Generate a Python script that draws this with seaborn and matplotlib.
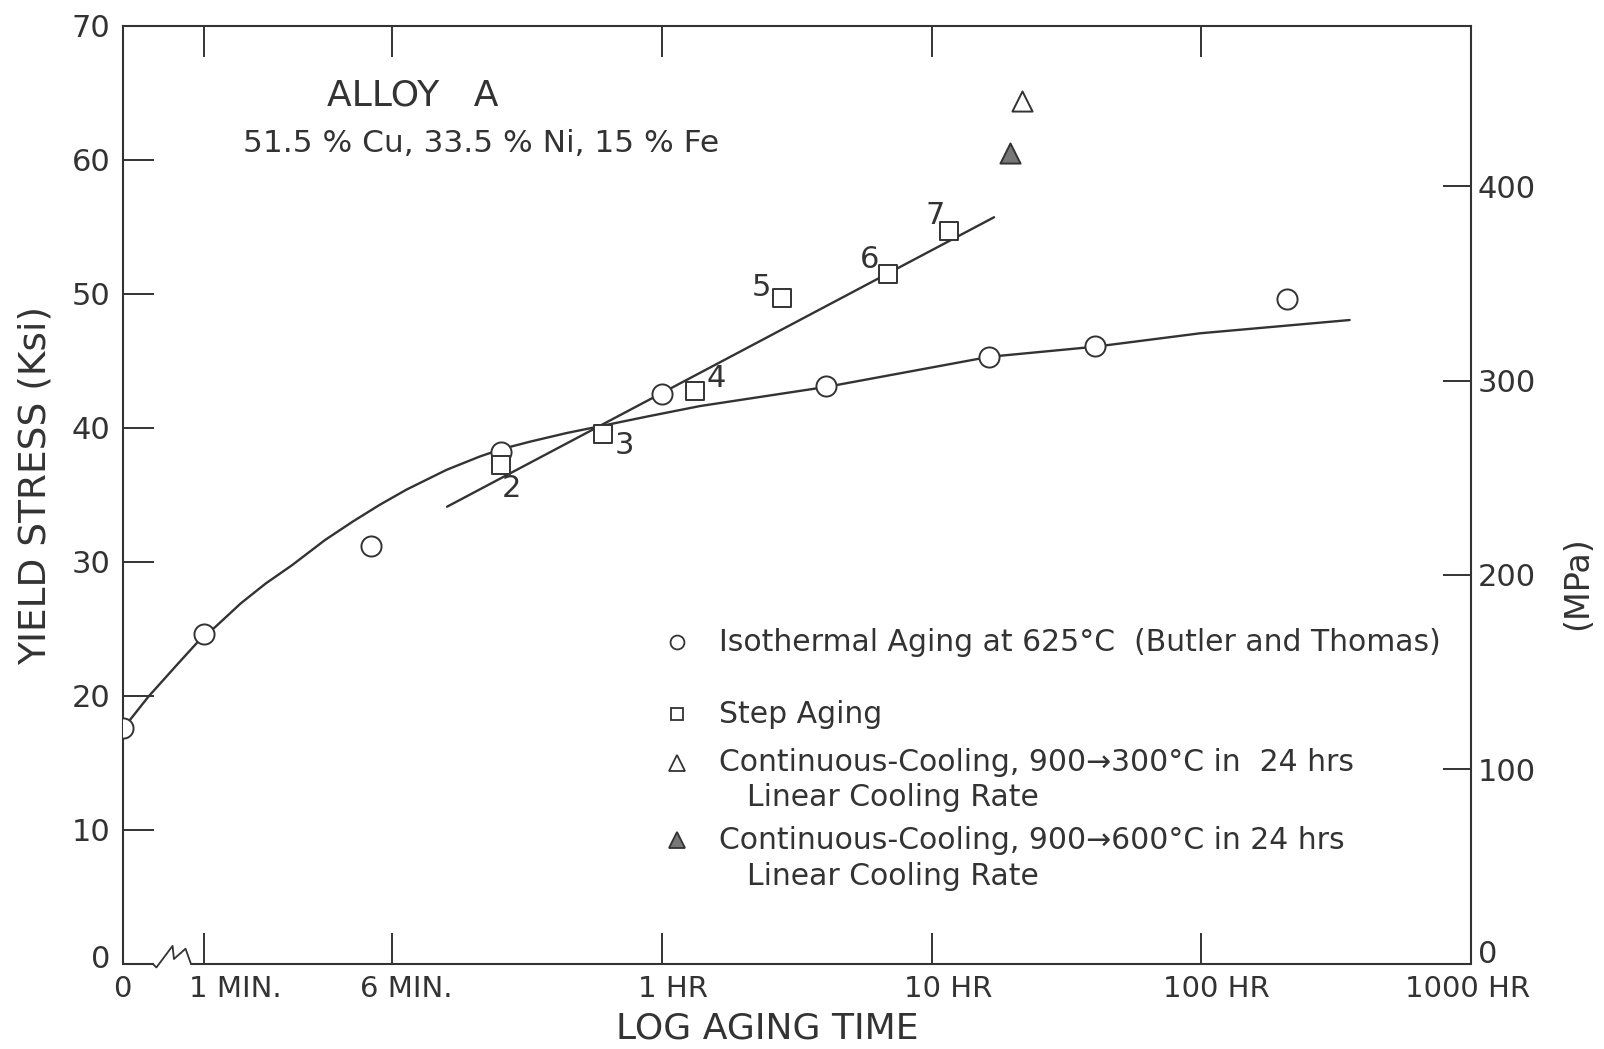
import numpy as np
import pandas as pd
import matplotlib
matplotlib.use('Agg')
import matplotlib.pyplot as plt
import matplotlib.transforms as mtransforms
import seaborn as sns

# x positions are in decades of aging time (log10 hours) as laid out on the drawn axis
tick_pos = [-2.0, -1.70, -1.0, 0.0, 1.0, 2.0, 3.0]
tick_labels = ['0', '1 MIN.', '6 MIN.', '1 HR', '10 HR', '100 HR', '1000 HR']
ksi_ticks = [0, 10, 20, 30, 40, 50, 60, 70]
mpa_ticks = [0, 100, 200, 300, 400]

iso_x = [-2.0, -1.70, -1.078, -0.596, 0.0, 0.610, 1.213, 1.608, 2.317]
iso_y = [17.6, 24.6, 31.2, 38.2, 42.5, 43.1, 45.3, 46.1, 49.6]

step_labels = ['2', '3', '4', '5', '6', '7']
step_x = [-0.596, -0.217, 0.124, 0.447, 0.838, 1.065]
step_y = [37.2, 39.5, 42.7, 49.7, 51.5, 54.7]

cc300_x = [1.335]
cc300_y = [64.4]
cc600_x = [1.293]
cc600_y = [60.5]

# hand-drawn fitted curves
iso_curve_x = [-1.998, -1.905, -1.794, -1.698, -1.658, -1.562, -1.469, -1.371, -1.250,
               -1.146, -1.046, -0.947, -0.799, -0.675, -0.595, -0.490, -0.353, -0.255,
               -0.057, 0.141, 0.613, 1.216, 1.607, 1.996, 2.551]
iso_curve_y = [17.56, 19.92, 22.41, 24.53, 25.10, 26.89, 28.38, 29.75, 31.61,
               33.00, 34.25, 35.38, 36.85, 37.85, 38.40, 38.95, 39.60, 40.00,
               40.82, 41.61, 43.05, 45.29, 46.04, 47.04, 48.03]
step_line_x = [-0.797, 1.232]
step_line_y = [34.1, 55.7]

INK = '#333333'

sns.set_style('white')
plt.rcParams['font.family'] = ['DejaVu Sans']
plt.rcParams['text.color'] = INK

fig = plt.figure(figsize=(16.04, 10.49), dpi=100)
ax = fig.add_axes([0.0765, 0.0813, 0.8404, 0.8943])

sns.lineplot(x=iso_curve_x, y=iso_curve_y, sort=False, estimator=None, ax=ax,
             color=INK, lw=1.7, zorder=2)
sns.lineplot(x=step_line_x, y=step_line_y, sort=False, estimator=None, ax=ax,
             color=INK, lw=1.7, zorder=2)

sns.scatterplot(x=iso_x, y=iso_y, marker='o', s=210, facecolor='white',
                edgecolor=INK, linewidth=1.4, ax=ax, zorder=3)
sns.scatterplot(x=step_x, y=step_y, marker='s', s=165, facecolor='white',
                edgecolor=INK, linewidth=1.4, ax=ax, zorder=3)
sns.scatterplot(x=cc300_x, y=cc300_y, marker='^', s=210, facecolor='white',
                edgecolor=INK, linewidth=1.4, ax=ax, zorder=3)
sns.scatterplot(x=cc600_x, y=cc600_y, marker='^', s=210, facecolor='#777777',
                edgecolor=INK, linewidth=1.4, ax=ax, zorder=3)

label_offsets = [(7, -17), (15, -8), (15, 9), (-15, 7), (-13, 10), (-10, 11)]
for lab, x, y, off in zip(step_labels, step_x, step_y, label_offsets):
    ax.annotate(lab, (x, y), xytext=off, textcoords='offset points',
                ha='center', va='center', fontsize=22, color=INK)

ax.set_xlim(-2.0, 3.0)
ax.set_ylim(0, 70)

for s in ['left', 'right', 'top']:
    ax.spines[s].set_color(INK)
    ax.spines[s].set_linewidth(1.5)
ax.spines['bottom'].set_visible(False)

# bottom axis with a break (zigzag) between 0 and 1 MIN.
brk_x = [-1.889, -1.875, -1.815, -1.810, -1.767, -1.747]
brk_y = [0.0, -0.004, 0.019, 0.005, 0.016, 0.0]
xt = ax.get_xaxis_transform()
ax.plot([-2.0, -1.889], [0, 0], transform=xt, color=INK, lw=1.5, clip_on=False)
ax.plot(brk_x, brk_y, transform=xt, color=INK, lw=1.3, clip_on=False)
ax.plot([-1.747, 3.0], [0, 0], transform=xt, color=INK, lw=1.5, clip_on=False)

ax.set_xticks(tick_pos)
ax.set_xticklabels(tick_labels)
ax.set_yticks(ksi_ticks)
ax.set_yticklabels([str(v) for v in ksi_ticks])
ax.tick_params(axis='x', which='both', direction='in', length=22, width=1.4,
               color=INK, top=True, bottom=True, labelsize=21, labelcolor=INK, pad=8)
ax.tick_params(axis='y', which='both', direction='in', length=22, width=1.4,
               color=INK, left=True, right=False, labelsize=22, labelcolor=INK, pad=9)

x_off = [0, 23, 10, 8, 12, 11, -2]
for lbl, dx in zip(ax.get_xticklabels(), x_off):
    lbl.set_transform(lbl.get_transform() +
                      mtransforms.ScaledTranslation(dx / 72, 0, fig.dpi_scale_trans))
ylbl0 = ax.get_yticklabels()[0]
ylbl0.set_transform(ylbl0.get_transform() +
                    mtransforms.ScaledTranslation(0, 5 / 72, fig.dpi_scale_trans))

ax2 = ax.twinx()
ax2.set_ylim(0, 70 * 6.895)
ax2.set_yticks(mpa_ticks)
ax2.set_yticklabels([str(v) for v in mpa_ticks])
ax2.tick_params(axis='y', direction='in', length=20, width=1.4, color=INK,
                labelsize=22, labelcolor=INK, pad=5)
for s in ['left', 'right', 'top', 'bottom']:
    ax2.spines[s].set_visible(False)
rlbl0 = ax2.get_yticklabels()[0]
rlbl0.set_transform(rlbl0.get_transform() +
                    mtransforms.ScaledTranslation(0, 9 / 72, fig.dpi_scale_trans))

ax.text(-0.0644, 0.51, 'YIELD STRESS (Ksi)', transform=ax.transAxes, rotation=90,
        ha='center', va='center', fontsize=27, color=INK)
ax.text(0.478, -0.0686, 'LOG AGING TIME', transform=ax.transAxes,
        ha='center', va='center', fontsize=26, color=INK)
ax.text(1.079, 0.406, '(MPa)', transform=ax.transAxes, rotation=90,
        ha='center', va='center', fontsize=24, color=INK)

ax.text(-0.926, 64.8, 'ALLOY   A', ha='center', va='center', fontsize=26, color=INK)
ax.text(-0.672, 61.2, '51.5 % Cu, 33.5 % Ni, 15 % Fe', ha='center', va='center',
        fontsize=22.5, color=INK)

# legend drawn manually to match the layout
leg_mx = 0.056
leg_tx = 0.212
leg_tx2 = 0.314
ax.plot([leg_mx], [24.0], marker='o', ms=10, mfc='white', mec=INK, mew=1.3, ls='none')
ax.plot([leg_mx], [18.6], marker='s', ms=9, mfc='white', mec=INK, mew=1.3, ls='none')
ax.plot([leg_mx], [15.0], marker='^', ms=11, mfc='white', mec=INK, mew=1.3, ls='none')
ax.plot([leg_mx], [9.2], marker='^', ms=11, mfc='#777777', mec=INK, mew=1.3, ls='none')
fs_leg = 21.5
ax.text(leg_tx, 24.0, 'Isothermal Aging at 625\u00b0C  (Butler and Thomas)',
        va='center', ha='left', fontsize=fs_leg, color=INK)
ax.text(leg_tx, 18.6, 'Step Aging', va='center', ha='left', fontsize=fs_leg, color=INK)
ax.text(leg_tx, 15.0, 'Continuous-Cooling, 900\u2192300\u00b0C in  24 hrs',
        va='center', ha='left', fontsize=fs_leg, color=INK)
ax.text(leg_tx2, 12.4, 'Linear Cooling Rate', va='center', ha='left', fontsize=fs_leg, color=INK)
ax.text(leg_tx, 9.2, 'Continuous-Cooling, 900\u2192600\u00b0C in 24 hrs',
        va='center', ha='left', fontsize=fs_leg, color=INK)
ax.text(leg_tx2, 6.5, 'Linear Cooling Rate', va='center', ha='left', fontsize=fs_leg, color=INK)

fig.savefig('out.png', dpi=100, facecolor='white')
